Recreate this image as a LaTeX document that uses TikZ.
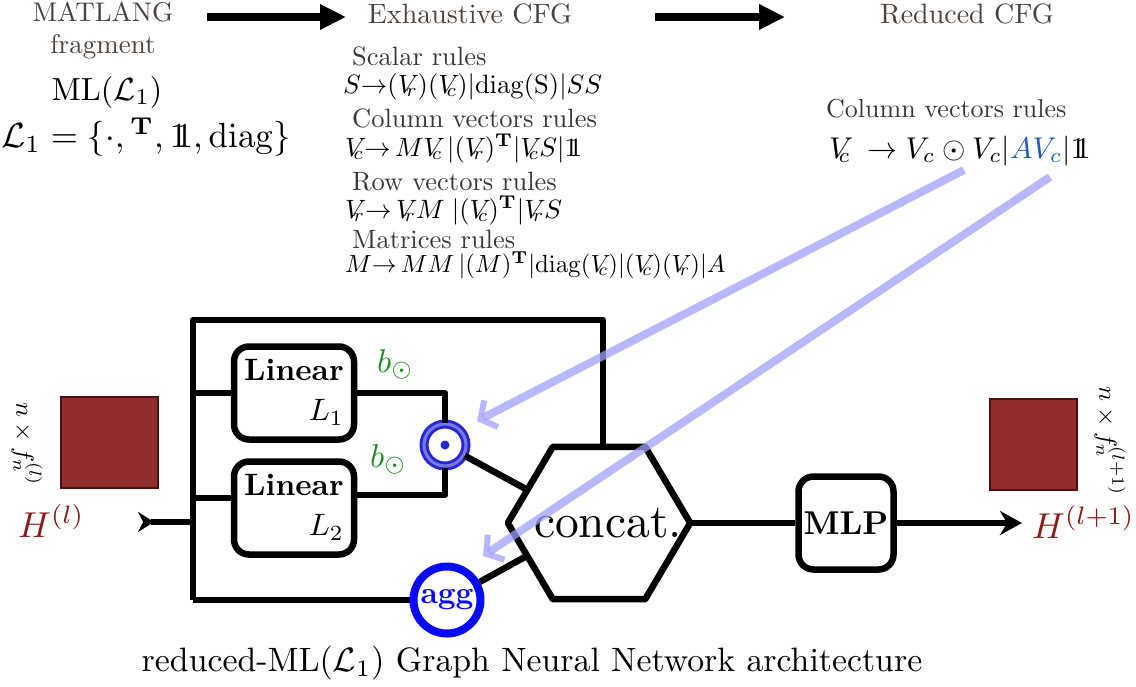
\documentclass[tikz,border=0pt]{standalone}
\usepackage{amsmath,amssymb,graphicx}
\usetikzlibrary{arrows.meta,calc}
\definecolor{toptext}{RGB}{77,67,60}
\definecolor{ruletext}{RGB}{55,55,55}
\definecolor{hred}{RGB}{139,26,26}
\definecolor{sqfill}{RGB}{146,45,45}
\definecolor{sqdraw}{RGB}{80,15,15}
\definecolor{bgreen}{RGB}{30,140,30}
\definecolor{avblue}{RGB}{30,90,190}
\definecolor{ringblue}{RGB}{40,40,210}
\definecolor{ringlight}{RGB}{120,120,235}
\definecolor{aggblue}{RGB}{10,10,250}
\definecolor{hint}{RGB}{160,160,255}
\newcommand{\sz}[2]{\scalebox{#1}{#2}}
\newcommand{\one}{\mathrm{1\!\!1}}
\newcommand{\Vr}{V_{\!\!r}}
\newcommand{\Vc}{V_{\!\!c}}
\begin{document}
\begin{tikzpicture}[x=1pt,y=-1pt,
  toptxt/.style={text=toptext,inner sep=0},
  rulehead/.style={text=ruletext,anchor=base west,inner sep=0},
  rulef/.style={anchor=base west,inner sep=0},
  toparrow/.style={line width=8pt,-{Triangle[length=26pt,width=24pt]}},
  wire/.style={line width=6.5pt,line join=round},
  lbox/.style={draw,line width=6.5pt,rounded corners=15pt,minimum width=120pt,minimum height=93pt,inner sep=0},
  sqbox/.style={draw=sqdraw,fill=sqfill,line width=1.5pt,inner sep=0},
  hlabel/.style={text=hred,anchor=base west,inner sep=0},
  dimlabel/.style={rotate=-90,inner sep=0},
  blabel/.style={text=bgreen,anchor=base west,inner sep=0},
  hintarrow/.style={draw=hint,draw opacity=0.75,line width=8pt,-{Straight Barb[length=12pt,width=30pt,line width=6pt]}}
]
\useasboundingbox (0,0) rectangle (1136,686);

% ---------- top row ----------
\node[toptxt] (matlang) at (103,12) {\sz{2.7}{MATLANG}};
\node[toptxt,anchor=base] (frag) at (103,53) {\sz{2.7}{fragment}};
\node[inner sep=0,anchor=base] (ml) at (107,100) {\sz{3.2}{$\mathrm{ML}(\mathcal{L}_1)$}};
\node[inner sep=0,anchor=base] (leq) at (146,147) {\sz{3.5}{$\mathcal{L}_1=\{\cdot,{}^{\mathbf{T}},\one,\mathrm{diag}\}$}};
\node[toptxt,anchor=base] (exh) at (470,23) {\sz{2.8}{Exhaustive CFG}};
\node[toptxt,anchor=base] (red) at (967,23) {\sz{2.8}{Reduced CFG}};
\coordinate (a1s) at (207,17);
\coordinate (a1e) at (346,17);
\coordinate (a2s) at (655,17);
\coordinate (a2e) at (785,17);
\draw[toparrow] (a1s) -- (a1e);
\draw[toparrow] (a2s) -- (a2e);

% ---------- exhaustive rules ----------
\node[rulehead] (sr) at (352,65) {\sz{2.65}{Scalar rules}};
\node[rulef] (srf) at (343,93) {\sz{2.65}{$S{\to}(\Vr)(\Vc)|\mathrm{diag}(\mathrm{S})|SS$}};
\node[rulehead] (cr) at (352,127) {\sz{2.65}{Column vectors rules}};
\node[rulef] (crf) at (345,156) {\sz{2.65}{$\Vc{\to}\,M\Vc\,|(\Vr)^{\mathbf{T}}|\Vc S|\one$}};
\node[rulehead] (rr) at (352,190) {\sz{2.65}{Row vectors rules}};
\node[rulef] (rrf) at (345,218) {\sz{2.65}{$\Vr{\to}\,\Vr M\;|(\Vc)^{\mathbf{T}}|\Vr S$}};
\node[rulehead] (mr) at (352,248) {\sz{2.65}{Matrices rules}};
\node[rulef] (mrf) at (345,272) {\sz{2.48}{$M{\to}\,MM\,|(M)^{\mathbf{T}}|\mathrm{diag}(\Vc)|(\Vc)(\Vr)|A$}};

% ---------- reduced rules ----------
\node[rulehead] (rcr) at (826,117) {\sz{2.6}{Column vectors rules}};
\node[inner sep=0,anchor=base west] (rcrf) at (829,158) {\sz{3.0}{$\Vc\;\to V_c\odot V_c|{\color{avblue}AV_c}|\one$}};
\coordinate (odotsym) at (964,170);
\coordinate (avsym) at (1050,177);

% ---------- architecture ----------
\node[sqbox,minimum width=97pt,minimum height=91pt] (sqL) at (109.5,442.5) {};
\node[sqbox,minimum width=87pt,minimum height=91pt] (sqR) at (1033.5,444.5) {};
\node[dimlabel] (dimL) at (27,444) {\sz{2.5}{$n\times f_n^{(l)}$}};
\node[dimlabel] (dimR) at (1110,441) {\sz{2.5}{$n\times f_n^{(l+1)}$}};
\node[hlabel] (Hin) at (18,537) {\sz{3.6}{$H^{(l)}$}};
\node[hlabel] (Hout) at (1032,538) {\sz{3.6}{$H^{(l+1)}$}};

\coordinate (btop) at (193,320);
\coordinate (bbot) at (193,600);
\coordinate (tr) at (603,320);
\coordinate (inp) at (138,522);

\node[lbox] (L1) at (294,393) {\sz{3.1}{\begin{tabular}{@{}r@{}}\textbf{Linear}\\[1pt]$L_1$\end{tabular}}};
\node[lbox] (L2) at (294,508) {\sz{3.1}{\begin{tabular}{@{}r@{}}\textbf{Linear}\\[1pt]$L_2$\end{tabular}}};

\node[circle,draw=ringblue,line width=3pt,double=ringlight,double distance=3pt,minimum size=42pt,inner sep=0] (odot) at (445,445) {};
\fill[ringblue] (odot.center) circle (4.5pt);
\node[circle,draw=aggblue,line width=8pt,minimum size=67pt,inner sep=0,text=aggblue] (agg) at (447,600) {\sz{3.1}{\textbf{agg}}};

\node[inner sep=0,minimum width=182pt,minimum height=152pt] (concat) at (599,523) {\kern18pt\sz{4.75}{concat.}};
\coordinate (htl) at ($(concat.north west)+(45,0)$);
\coordinate (htr) at ($(concat.north east)+(-45,0)$);
\coordinate (hbl) at ($(concat.south west)+(45,0)$);
\coordinate (hbr) at ($(concat.south east)+(-45,0)$);
\draw[wire] (concat.west) -- (htl) -- (htr) -- (concat.east) -- (hbr) -- (hbl) -- cycle;
\coordinate (cin1) at ($(concat.west)!0.435!(htl)$);
\coordinate (cin2) at ($(concat.west)!0.43!(hbl)$);

\node[draw,line width=6.5pt,rounded corners=15pt,minimum width=95pt,minimum height=93pt,inner sep=0] (mlp) at (846,523) {\sz{3.3}{\textbf{MLP}}};
\coordinate (outc) at (1022,523);

\node[blabel] (b1) at (377,372) {\sz{3.3}{$b_{\odot}$}};
\node[blabel] (b2) at (370,467) {\sz{3.3}{$b_{\odot}$}};

% wires
\draw[wire,{Stealth[reversed,length=16pt,width=20pt]}-] (inp) -- (inp -| btop);
\draw[wire] (bbot) -- (btop) -- (tr) -- (tr |- concat.north);
\draw[wire] (bbot) -- (agg);
\draw[wire] (L1.west) -- (L1.west -| btop);
\draw[wire] ([yshift=10pt]L2.west) -- ([yshift=10pt]L2.west -| btop);
\draw[wire] (L1.east) -| (odot.north);
\draw[wire] ([yshift=13pt]L2.east) -| (odot.south);
\draw[wire] (odot) -- (cin1);
\draw[wire] (agg) -- (cin2);
\draw[wire] (concat.east) -- (mlp);
\draw[wire,-{Stealth[length=22pt,width=24pt]}] (mlp) -- (outc);

% hint arrows
\coordinate (odottip) at (477,421);
\coordinate (aggtip) at (483,556);
\draw[hintarrow] (odotsym) -- (odottip);
\draw[hintarrow] (avsym) -- (aggtip);

% caption
\node[inner sep=0,anchor=base] (cap) at (532,671) {\sz{3.38}{reduced-$\mathrm{ML}(\mathcal{L}_1)$ Graph Neural Network architecture}};
\end{tikzpicture}
\end{document}
